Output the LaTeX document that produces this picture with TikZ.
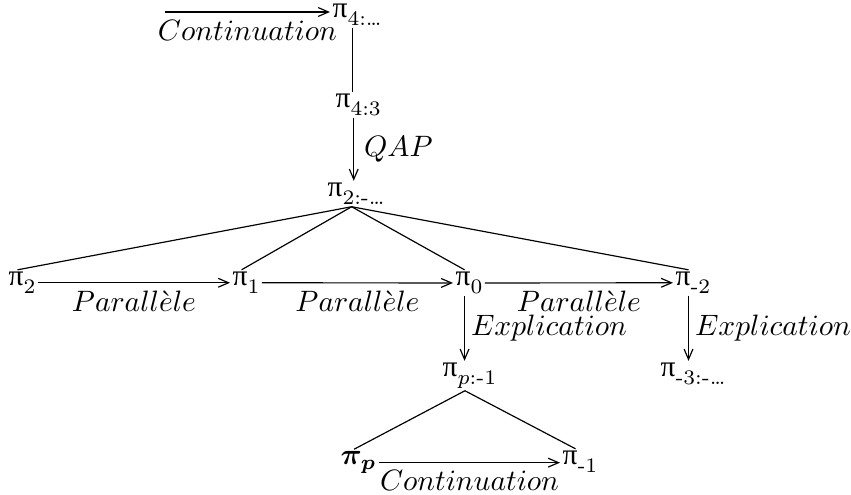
\documentclass[tikz,border=0pt]{standalone}
\usepackage{amsmath,amssymb}
\usepackage{fontspec}
\newfontfamily\pifont{Liberation Serif}
\usetikzlibrary{arrows.meta}
\newcommand{\ppi}[1]{{\pifont π}\raisebox{-2.4pt}{\scriptsize #1}}

\begin{document}
\begin{tikzpicture}[x=0.339pt,y=-0.339pt,
		elt/.style={inner sep=0.7pt,anchor=base west},
		lab/.style={inner sep=2.5pt},
		gx/.style={xshift=-1.5pt},
		fl/.style={-{Straight Barb[length=3.5pt,width=3pt]}}]
			      \useasboundingbox (0,0) rectangle (851,495);
			      % Nodes
			      \node[elt] (P4)  at (330,18)  {\ppi{4:\dots}};
			      \node[elt] (P43) at (333,108) {\ppi{4:3}};
			      \node[elt] (P2x) at (325,197) {\ppi{2:-\dots}};
			      \node[elt] (P2)  at (6,286)   {\ppi{2}};
			      \node[elt] (P1)  at (230,286) {\ppi{1}};
			      \node[elt] (P0)  at (453,286) {\ppi{0}};
			      \node[elt] (Pm2) at (673,286) {\ppi{-2}};
			      \node[elt] (Pp1) at (440,377) {\ppi{$p$:-1}};
			      \node[elt] (Pm3) at (658,377) {\ppi{-3:-\dots}};
			      \node[elt] (Pp)  at (338,465) {$\boldsymbol{\pi_p}$};
			      \node[elt] (Pm1) at (560,465) {\ppi{-1}};
			      \coordinate (C0) at (165,12);
			      % Top chain
			      \draw[fl] (C0) -- node[lab,below] {$Continuation$} (C0 -| P4.west);
			      \draw ([gx]P4.south) -- ([gx]P4.south |- P43.north);
			      \draw[fl] ([gx]P43.south) -- node[right] {$QAP$} ([gx]P43.south |- P2x.north);
			      % Tree
			      \foreach \P in {P2, P1, P0, Pm2} {
					      \draw ([gx]P2x.south) -- ([gx]\P.north);
				      }
			      \draw[fl] (P2) -- node[lab,below] {$Parall\grave{e}le$} (P1);
			      \draw[fl] (P1) -- node[lab,below] {$Parall\grave{e}le$} (P0);
			      \draw[fl] (P0) -- node[lab,below] {$Parall\grave{e}le$} (Pm2);
			      \draw[fl] ([gx]P0.south) -- node[right,inner sep=2pt] {$Explication$} ([gx]P0.south |- Pp1.north);
			      \draw[fl] ([gx]Pm2.south) -- node[right,inner sep=2pt] {$Explication$} ([gx]Pm2.south |- Pm3.north);
			      % Bottom
			      \foreach \P in {Pp, Pm1} {
					      \draw ([gx]Pp1.south) -- ([gx]\P.north);
				      }
			      \draw[fl] (Pp.east) -- node[lab,below] {$Continuation$} (Pp.east -| Pm1.west);
		      \end{tikzpicture}
\end{document}
